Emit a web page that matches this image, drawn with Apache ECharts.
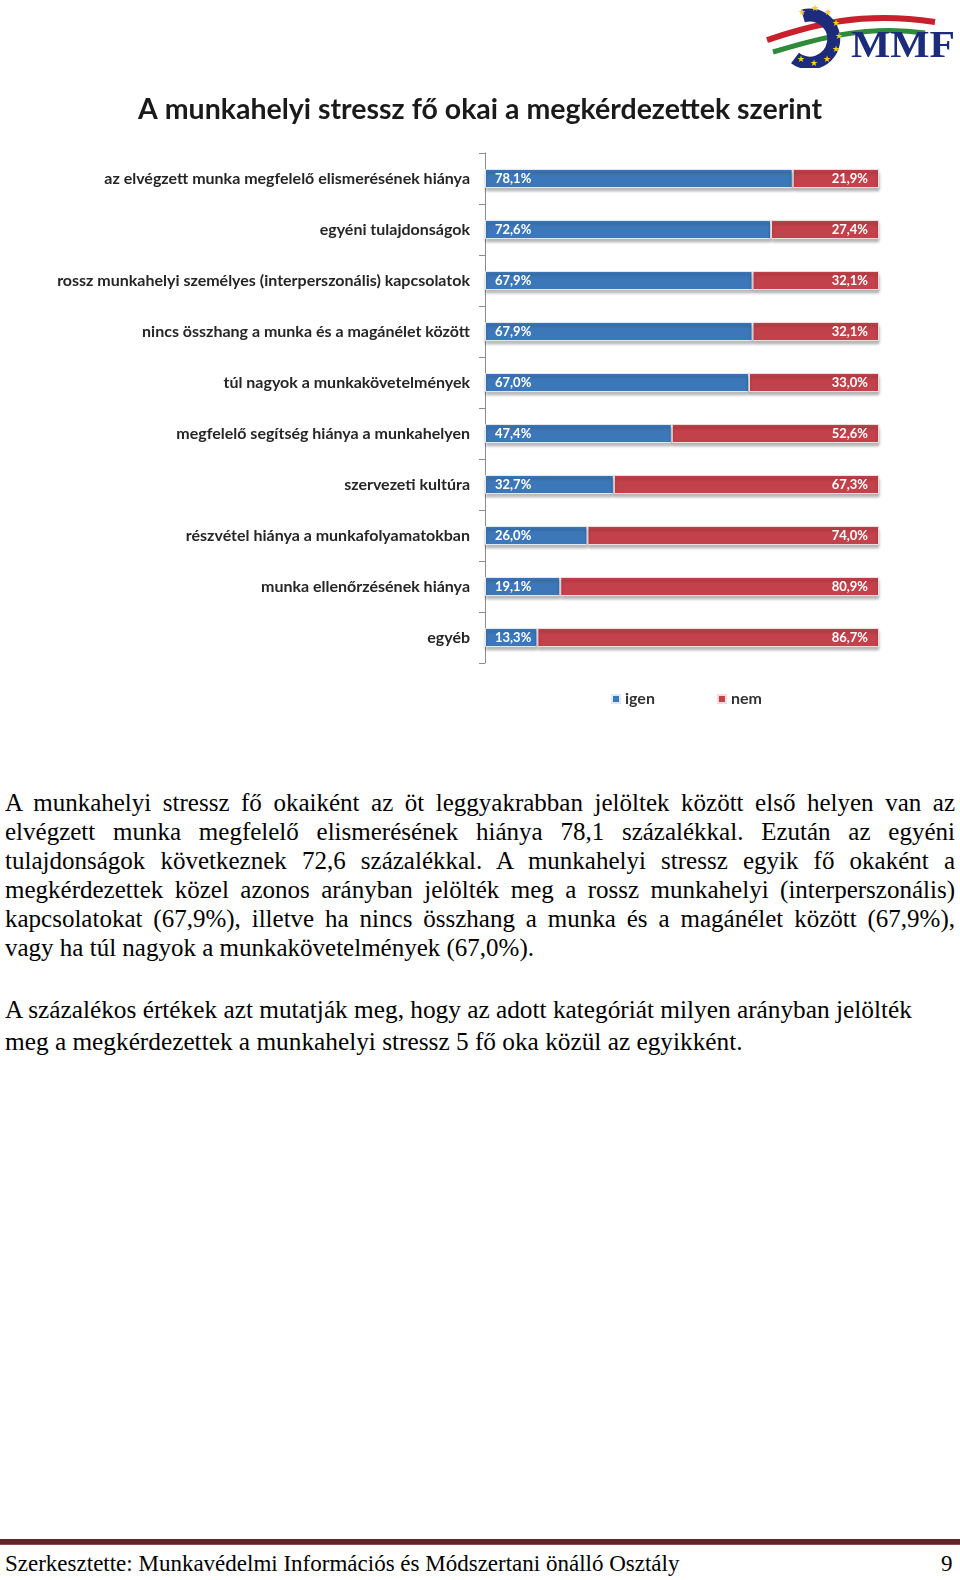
<!DOCTYPE html>
<html>
<head>
<meta charset="UTF-8">
<title>A munkahelyi stressz fő okai</title>
<script src="https://cdn.jsdelivr.net/npm/echarts@6/dist/echarts.min.js"></script>
<style>
  body { margin: 0; width: 960px; height: 1580px; position: relative; background: #fff; overflow: hidden; }
  #container { position: absolute; left: 0; top: 0; width: 960px; height: 760px; }
  .txt { position: absolute; font-family: "Liberation Serif", "Times New Roman", serif; color: #000; }
  .jl { text-align: justify; text-align-last: justify; }
  #p1 { left: 5px; top: 788px; width: 950px; font-size: 25px; line-height: 29px; }
  #p2 { left: 5px; top: 993px; font-size: 25.3px; line-height: 32px; white-space: nowrap; }
  #foot { position: absolute; left: 0; top: 1539px; width: 960px; height: 5px; background: #5e2427; border-bottom: 1px solid #8a4a4c; }
  #foottxt { left: 5px; top: 1551px; font-size: 23px; white-space: nowrap; }
  #pagenum { left: 941px; top: 1551px; font-size: 23px; }
  #logo { position: absolute; left: 765px; top: 0; }
</style>
</head>
<body>
<div id="container"></div>

<svg id="logo" width="192" height="68" viewBox="0 0 192 68">
  <path d="M2,40 C40,28 90,10 170,22" stroke="#c8202c" stroke-width="6" fill="none"/>
  <path d="M4,46 C45,34 95,18 165,28" stroke="#fff" stroke-width="3" fill="none"/>
  <path d="M8,52 C48,40 100,24 160,33" stroke="#2f8a3a" stroke-width="5" fill="none"/>
  <path d="M38,16 A24,24 0 1 1 30,58" stroke="#1d2c7a" stroke-width="13" fill="none"/>
  <g fill="#f4d21a" font-size="9" font-family="DejaVu Sans" text-anchor="middle">
    <text x="37" y="15">★</text><text x="50" y="11">★</text><text x="63" y="15">★</text>
    <text x="71" y="26">★</text><text x="74" y="39">★</text><text x="71" y="52">★</text>
    <text x="62" y="62">★</text><text x="49" y="66">★</text><text x="36" y="62">★</text>
  </g>
  <text x="86" y="57" font-family="Liberation Serif, serif" font-weight="bold" font-size="38" fill="#1d2c7a" textLength="104" lengthAdjust="spacingAndGlyphs">MMF</text>
</svg>

<div id="p1" class="txt">
  <div class="jl">A munkahelyi stressz fő okaiként az öt leggyakrabban jelöltek között első helyen van az</div>
  <div class="jl">elvégzett munka megfelelő elismerésének hiánya 78,1 százalékkal. Ezután az egyéni</div>
  <div class="jl">tulajdonságok következnek 72,6 százalékkal. A munkahelyi stressz egyik fő okaként a</div>
  <div class="jl">megkérdezettek közel azonos arányban jelölték meg a rossz munkahelyi (interperszonális)</div>
  <div class="jl">kapcsolatokat (67,9%), illetve ha nincs összhang a munka és a magánélet között (67,9%),</div>
  <div>vagy ha túl nagyok a munkakövetelmények (67,0%).</div>
</div>

<div id="p2" class="txt">
  <div>A százalékos értékek azt mutatják meg, hogy az adott kategóriát milyen arányban jelölték</div>
  <div>meg a megkérdezettek a munkahelyi stressz 5 fő oka közül az egyikként.</div>
</div>

<div id="foot"></div>
<div id="foottxt" class="txt">Szerkesztette: Munkavédelmi Információs és Módszertani önálló Osztály</div>
<div id="pagenum" class="txt">9</div>

<script type="text/javascript">
var categories = [
  'az elvégzett munka megfelelő elismerésének hiánya',
  'egyéni tulajdonságok',
  'rossz munkahelyi személyes (interperszonális) kapcsolatok',
  'nincs összhang a munka és a magánélet között',
  'túl nagyok a munkakövetelmények',
  'megfelelő segítség hiánya a munkahelyen',
  'szervezeti kultúra',
  'részvétel hiánya a munkafolyamatokban',
  'munka ellenőrzésének hiánya',
  'egyéb'
];
var igen = [78.1, 72.6, 67.9, 67.9, 67.0, 47.4, 32.7, 26.0, 19.1, 13.3];
var nem = [21.9, 27.4, 32.1, 32.1, 33.0, 52.6, 67.3, 74.0, 80.9, 86.7];

var narrow = 'Lato, "Open Sans", sans-serif';

function pct(p) {
  return p.value.toFixed(1).replace('.', ',') + '%';
}

var dom = document.getElementById('container');
var myChart = echarts.init(dom);

var option = {
  animation: false,
  title: {
    text: 'A munkahelyi stressz fő okai a megkérdezettek szerint',
    left: 'center',
    top: 90,
    textStyle: { fontFamily: narrow, fontSize: 28.5, fontWeight: 'bold', color: '#1a1a1a' }
  },
  legend: {
    data: ['igen', 'nem'],
    left: 606,
    top: 686,
    icon: 'rect',
    itemWidth: 8,
    itemHeight: 8,
    itemGap: 62,
    textStyle: { fontFamily: narrow, fontSize: 16, fontWeight: 'bold', color: '#333' }
  },
  grid: { left: 485, width: 394, top: 153, height: 510, outerBoundsMode: 'none' },
  xAxis: { type: 'value', min: 0, max: 100, show: false },
  yAxis: {
    type: 'category',
    inverse: true,
    data: categories,
    axisLine: { lineStyle: { color: '#8c8c8c', width: 1 } },
    axisTick: { show: true, length: 6, lineStyle: { color: '#8c8c8c' } },
    axisLabel: {
      margin: 15,
      fontFamily: narrow,
      fontSize: 16,
      fontWeight: 'bold',
      color: '#262626'
    }
  },
  series: [
    {
      name: 'igen',
      type: 'bar',
      stack: 'all',
      barWidth: 19,
      data: igen,
      itemStyle: {
        color: '#3c78b9',
        borderColor: '#dfe8f3',
        borderWidth: 1,
        shadowColor: 'rgba(0,0,0,0.3)',
        shadowBlur: 3,
        shadowOffsetY: 3
      },
      label: {
        show: true, position: 'insideLeft', distance: 10, formatter: pct,
        color: '#fff', fontFamily: narrow, fontSize: 13, fontWeight: 'bold'
      }
    },
    {
      name: 'nem',
      type: 'bar',
      stack: 'all',
      barWidth: 19,
      data: nem,
      itemStyle: {
        color: '#c3414a',
        borderColor: '#f0dcdc',
        borderWidth: 1,
        shadowColor: 'rgba(0,0,0,0.3)',
        shadowBlur: 3,
        shadowOffsetY: 3
      },
      label: {
        show: true, position: 'insideRight', distance: 11, formatter: pct,
        color: '#fff', fontFamily: narrow, fontSize: 13, fontWeight: 'bold'
      }
    }
  ]
};

myChart.setOption(option);
</script>
</body>
</html>
